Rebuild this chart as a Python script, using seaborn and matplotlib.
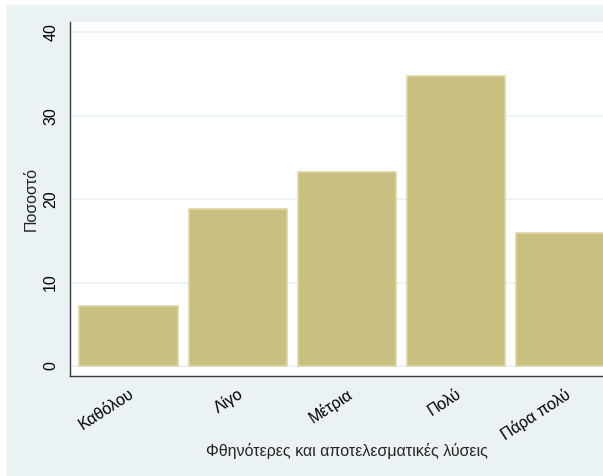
# plot.py
# Seaborn bar chart: percentage of answers per category (Stata-like look)

import pandas as pd
import seaborn as sns
import matplotlib.pyplot as plt
from matplotlib.patches import Rectangle

# ----- Data -----
categories = ["Καθόλου", "Λίγο", "Μέτρια", "Πολύ", "Πάρα πολύ"]
percent = [7.2, 18.8, 23.2, 34.8, 15.9]
y_ticks = [0, 10, 20, 30, 40]

df = pd.DataFrame({"category": categories, "percent": percent})

# ----- Styling -----
sns.set_style("white")
plt.rcParams["font.family"] = ["Liberation Sans", "DejaVu Sans"]

bg = "#EAF2F3"
bar_color = "#C8C07F"
edge_color = "#DBD6A6"
axis_color = "#3A3A3A"

fig = plt.figure(figsize=(6.03, 4.76), dpi=100, facecolor="white")
# light graph region, with a thin white strip on the left and top
fig.patches.append(Rectangle((7 / 603, 0), 1, 1 - 5 / 476,
                             transform=fig.transFigure, color=bg, zorder=-10))

ax = fig.add_axes([70 / 603, 100 / 476, 553.5 / 603, 354.3 / 476])
ax.set_facecolor("white")

sns.barplot(data=df, x="category", y="percent", order=categories,
            color=bar_color, saturation=1, width=0.9,
            edgecolor=edge_color, linewidth=1.2, ax=ax, zorder=3)

ax.set_xlim(-0.537, 4.537)
ax.set_ylim(-1.2, 41.27)
ax.set_yticks(y_ticks)
ax.yaxis.grid(True, color=bg, linewidth=1.2, zorder=0)
ax.set_axisbelow(True)

for side in ["top", "right"]:
    ax.spines[side].set_visible(False)
for side in ["left", "bottom"]:
    ax.spines[side].set_color(axis_color)
    ax.spines[side].set_linewidth(1.0)

ax.tick_params(axis="both", direction="out", length=5.5, width=1,
               color="#555555", labelsize=11.5, labelcolor="black", pad=2)
ax.tick_params(axis="y", labelrotation=90, pad=3)
for lab in ax.get_yticklabels():
    lab.set_va("center")

ax.set_xticks(range(len(categories)))
ax.set_xticklabels(categories, rotation=33, ha="right",
                   rotation_mode="anchor", fontsize=11.5)

ax.set_ylabel("Ποσοστό", fontsize=11.5, labelpad=3)
ax.set_xlabel("Φθηνότερες και αποτελεσματικές λύσεις", fontsize=11.5,
              labelpad=0)

fig.savefig("out.png", dpi=100, facecolor=fig.get_facecolor())
